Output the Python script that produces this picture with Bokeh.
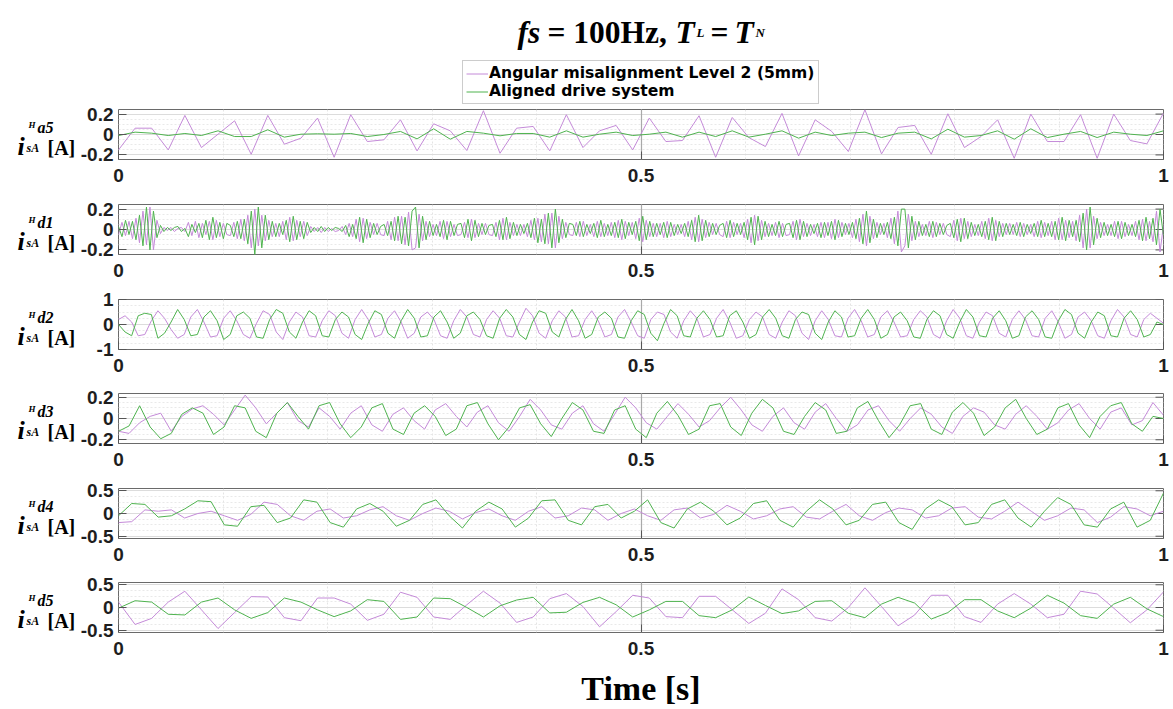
import numpy as np
from bokeh.plotting import figure
from bokeh.models import (Range1d, FixedTicker, CustomJSTickFormatter, LinearAxis,
                          Legend, LegendItem, Grid)
from bokeh.core.properties import value
from bokeh.layouts import column, row
from bokeh.embed import file_html
from bokeh.resources import INLINE

# ---------------- data ----------------
a5_misaligned = [-0.151, 0.062, 0.062, -0.151, 0.187, -0.128, 0.003, 0.134, -0.194, 0.187,
                 -0.095, -0.036, 0.161, -0.223, 0.194, -0.069, -0.052, 0.144, -0.161, 0.105,
                 0.036, -0.157, 0.233, -0.184, 0.062, 0.079, -0.161, 0.194, -0.128, 0.036,
                 0.089, -0.151, 0.161, -0.069, -0.059, 0.184, -0.223, 0.167, -0.030, -0.118,
                 0.207, -0.210, 0.144, 0.030, -0.167, 0.243, -0.190, 0.069, 0.089, -0.194,
                 0.203, -0.128, -0.020, 0.144, -0.233, 0.200, -0.069, -0.069, 0.194, -0.233,
                 0.200, -0.059, -0.092, 0.210]
a5_aligned = [-0.010, 0.023, 0.013, -0.010, 0.010, -0.010, 0.036, -0.020, -0.020, 0.046,
              -0.026, 0.003, 0.007, 0.003, 0.010, -0.020, 0.000, 0.030, -0.043, 0.056,
              -0.046, 0.030, 0.013, -0.013, 0.010, 0.010, -0.026, 0.036, -0.026, 0.003,
              0.023, -0.010, 0.003, 0.023, -0.026, 0.023, -0.020, 0.036, -0.026, 0.003,
              0.036, -0.036, 0.023, -0.010, 0.013, 0.023, -0.030, 0.013, 0.023, -0.043,
              0.052, -0.026, -0.010, 0.036, -0.046, 0.056, -0.030, 0.003, 0.030, -0.030,
              0.023, 0.003, -0.010, 0.036]

d1_misaligned = [
    -0.05, 0.07, -0.06, 0.08, -0.09, 0.11, -0.13, 0.18, -0.15, 0.22, -0.20, 0.09, -0.04, 0.02, -0.01, 0.02, -0.02, 0.01, 0.02, -0.02,
    0.07, -0.06, 0.08, -0.08, 0.06, -0.05, 0.08, -0.10, 0.09, -0.07, 0.06, -0.05, -0.06, 0.07, -0.09, 0.10, -0.11, 0.14, -0.18, 0.20,
    -0.16, 0.14, -0.11, 0.09, -0.07, 0.06, -0.07, 0.08, -0.10, 0.12, -0.11, 0.09, -0.07, 0.08, -0.06, 0.03, -0.02, 0.02, -0.03, 0.02,
    -0.02, 0.01, -0.02, -0.01, 0.03, -0.05, 0.06, -0.07, 0.10, -0.12, 0.11, -0.09, 0.07, -0.05, 0.06, -0.05, -0.06, 0.08, -0.10, 0.12,
    -0.11, 0.13, -0.15, 0.17, -0.20, -0.18, 0.15, -0.11, 0.08, -0.07, 0.05, -0.06, 0.08, -0.09, 0.08, -0.07, 0.05, -0.06, -0.05, 0.07,
    -0.08, 0.10, -0.08, 0.06, -0.05, 0.06, -0.05, -0.06, 0.07, -0.10, 0.11, -0.10, 0.07, -0.06, 0.05, -0.06, 0.05, -0.07, 0.09, -0.10,
    0.11, -0.12, 0.15, -0.14, 0.16, -0.18, 0.13, -0.09, 0.07, -0.05, -0.06, 0.07, -0.07, 0.08, -0.06, 0.05, -0.07, 0.08, -0.07, 0.06,
    -0.06, 0.07, -0.08, 0.09, -0.10, 0.08, -0.06, 0.07, -0.09, 0.11, -0.12, 0.09, -0.07, 0.06, -0.07, 0.06, -0.08, 0.08, -0.07, 0.05,
    -0.05, 0.05, -0.07, 0.08, -0.10, 0.12, -0.12, 0.10, -0.08, 0.07, -0.05, 0.06, -0.05, -0.07, 0.08, -0.08, 0.07, -0.05, 0.06, -0.08,
    0.10, -0.13, 0.14, -0.11, 0.09, -0.07, 0.06, -0.06, 0.07, -0.08, 0.06, -0.06, -0.05, 0.08, -0.10, 0.10, -0.07, 0.06, -0.06, 0.05,
    -0.07, 0.07, -0.08, 0.07, -0.09, 0.10, -0.08, 0.07, -0.05, 0.06, -0.08, 0.10, -0.12, 0.15, -0.16, 0.13, -0.09, 0.07, -0.05, 0.06,
    -0.08, 0.11, -0.14, 0.18, -0.22, -0.16, 0.15, -0.11, 0.08, -0.07, 0.05, -0.06, 0.08, -0.08, 0.07, -0.05, 0.06, -0.05, -0.07, 0.09,
    -0.11, 0.11, -0.09, 0.08, -0.07, 0.05, -0.06, 0.08, -0.09, 0.11, -0.11, 0.09, -0.07, 0.06, -0.05, 0.06, -0.05, 0.07, -0.07, 0.06,
    -0.05, 0.05, -0.07, 0.08, -0.08, 0.07, -0.06, 0.08, -0.10, 0.11, -0.10, 0.09, -0.08, 0.08, -0.11, 0.14, -0.18, 0.20, -0.18, 0.13,
    -0.09, 0.07, -0.06, 0.05, -0.06, 0.08, -0.09, 0.08, -0.07, 0.05, -0.06, 0.08, -0.10, 0.10, -0.11, 0.08, -0.12, 0.18, -0.22, 0.04]
d1_aligned = [
    0.03, -0.07, 0.09, -0.05, 0.08, -0.10, 0.14, -0.16, 0.22, -0.20, 0.18, -0.08, 0.04, -0.02, 0.02, -0.01, 0.02, 0.03, -0.02, 0.01,
    -0.07, 0.05, -0.03, 0.06, -0.08, 0.09, -0.10, 0.12, -0.08, 0.07, -0.09, 0.06, 0.04, -0.07, 0.08, -0.09, 0.10, -0.14, 0.18, -0.25,
    0.22, -0.18, 0.14, -0.10, 0.08, -0.07, 0.06, -0.05, 0.09, -0.12, 0.13, -0.10, 0.08, -0.09, 0.07, -0.03, 0.02, -0.02, 0.03, -0.02,
    0.02, -0.01, 0.02, 0.01, -0.02, 0.04, -0.07, 0.05, -0.09, 0.12, -0.13, 0.10, -0.08, 0.06, -0.05, 0.03, 0.05, -0.06, 0.08, -0.11,
    0.13, -0.14, 0.12, -0.16, 0.18, 0.22, -0.18, 0.13, -0.10, 0.08, -0.06, 0.05, -0.07, 0.09, -0.10, 0.08, -0.06, 0.05, 0.06, -0.08,
    0.10, -0.11, 0.09, -0.07, 0.06, -0.05, 0.04, 0.05, -0.07, 0.09, -0.10, 0.12, -0.09, 0.07, -0.06, 0.05, -0.04, 0.06, -0.08, 0.11,
    -0.13, 0.10, -0.14, 0.16, -0.18, 0.20, -0.13, 0.10, -0.08, 0.06, 0.05, -0.06, 0.08, -0.07, 0.05, -0.04, 0.06, -0.08, 0.09, -0.07,
    0.05, -0.06, 0.07, -0.08, 0.10, -0.09, 0.07, -0.05, 0.08, -0.11, 0.13, -0.10, 0.08, -0.07, 0.06, -0.05, 0.07, -0.08, 0.07, -0.06,
    0.05, -0.04, 0.06, -0.07, 0.09, -0.12, 0.14, -0.11, 0.09, -0.07, 0.06, -0.05, 0.04, 0.06, -0.08, 0.09, -0.07, 0.06, -0.05, 0.07,
    -0.10, 0.12, -0.15, 0.13, -0.10, 0.08, -0.07, 0.05, -0.06, 0.08, -0.07, 0.05, 0.06, -0.08, 0.09, -0.10, 0.08, -0.07, 0.05, -0.04,
    0.06, -0.08, 0.07, -0.06, 0.08, -0.10, 0.09, -0.07, 0.06, -0.05, 0.07, -0.09, 0.11, -0.14, 0.18, -0.13, 0.10, -0.08, 0.06, -0.05,
    0.07, -0.09, 0.12, -0.16, 0.20, 0.20, -0.18, 0.13, -0.10, 0.08, -0.06, 0.05, -0.07, 0.08, -0.07, 0.06, -0.05, 0.04, 0.06, -0.08,
    0.10, -0.12, 0.11, -0.09, 0.07, -0.06, 0.05, -0.07, 0.08, -0.10, 0.12, -0.11, 0.08, -0.07, 0.06, -0.05, 0.05, -0.06, 0.07, -0.07,
    0.05, -0.04, 0.06, -0.07, 0.09, -0.07, 0.06, -0.07, 0.08, -0.10, 0.12, -0.11, 0.09, -0.07, 0.09, -0.12, 0.16, -0.20, 0.22, -0.15,
    0.11, -0.08, 0.07, -0.06, 0.05, -0.07, 0.08, -0.09, 0.07, -0.06, 0.05, -0.07, 0.09, -0.11, 0.12, -0.09, 0.11, -0.15, 0.20, -0.06]

d2_misaligned = [
    0.20, 0.35, 0.10, -0.45, -0.40, 0.15, 0.55, 0.25, -0.20, -0.55,
    -0.40, 0.30, 0.60, 0.10, -0.50, -0.45, 0.25, 0.55, 0.15, -0.40,
    -0.55, 0.05, 0.55, 0.40, -0.30, -0.60, 0.10, 0.50, 0.30, -0.45,
    -0.50, 0.15, 0.55, 0.35, -0.35, -0.55, 0.20, 0.60, 0.20, -0.50,
    -0.40, 0.25, 0.55, 0.10, -0.55, -0.35, 0.30, 0.50, 0.20, -0.45,
    -0.55, 0.15, 0.60, 0.30, -0.40, -0.50, 0.20, 0.55, 0.25, -0.45,
    -0.50, 0.10, 0.65, 0.35, -0.35, -0.55, 0.15, 0.55, 0.30, -0.50,
    -0.45, 0.20, 0.55, 0.15, -0.50, -0.40, 0.30, 0.60, 0.10, -0.45,
    -0.55, 0.20, 0.50, 0.40, -0.30, -0.55, 0.15, 0.55, 0.25, -0.50,
    -0.40, 0.25, 0.60, 0.10, -0.55, -0.45, 0.20, 0.50, 0.30, -0.40,
    -0.55, 0.10, 0.55, 0.35, -0.35, -0.60, 0.15, 0.55, 0.20, -0.45,
    -0.50, 0.25, 0.60, 0.15, -0.50, -0.40, 0.30, 0.55, 0.10, -0.50,
    -0.45, 0.20, 0.55, 0.30, -0.40, -0.55, 0.15, 0.60, 0.25, -0.45,
    -0.55, 0.10, 0.50, 0.35, -0.35, -0.50, 0.20, 0.55, 0.20, -0.45,
    -0.50, 0.25, 0.55, 0.10, -0.55, -0.40, 0.30, 0.50, 0.15, -0.45,
    -0.55, 0.15, 0.60, 0.30, -0.40, -0.50, 0.20, 0.45, 0.25, 0.05]
d2_aligned = [
    0.00, -0.30, -0.45, 0.35, 0.45, 0.40, -0.55, -0.35, 0.10, 0.60,
    0.20, -0.45, -0.40, 0.30, 0.55, 0.15, -0.60, -0.40, 0.35, 0.50,
    0.25, -0.50, -0.55, 0.20, 0.60, 0.45, -0.30, -0.55, 0.10, 0.55,
    0.35, -0.45, -0.50, 0.20, 0.50, 0.30, -0.40, -0.60, 0.05, 0.55,
    0.40, -0.35, -0.55, 0.15, 0.60, 0.25, -0.50, -0.45, 0.30, 0.55,
    0.10, -0.55, -0.35, 0.35, 0.50, 0.20, -0.45, -0.55, 0.25, 0.60,
    0.30, -0.40, -0.60, 0.10, 0.55, 0.45, -0.30, -0.50, 0.20, 0.60,
    0.15, -0.55, -0.40, 0.30, 0.50, 0.25, -0.50, -0.55, 0.15, 0.55,
    0.40, -0.35, -0.65, 0.05, 0.60, 0.35, -0.45, -0.50, 0.25, 0.55,
    0.20, -0.50, -0.45, 0.35, 0.55, 0.10, -0.55, -0.40, 0.30, 0.60,
    0.25, -0.45, -0.55, 0.20, 0.50, 0.40, -0.35, -0.60, 0.10, 0.55,
    0.30, -0.50, -0.45, 0.25, 0.60, 0.20, -0.55, -0.40, 0.30, 0.50,
    0.15, -0.50, -0.55, 0.20, 0.55, 0.35, -0.40, -0.55, 0.10, 0.60,
    0.30, -0.45, -0.50, 0.25, 0.55, 0.15, -0.55, -0.45, 0.30, 0.55,
    0.20, -0.50, -0.55, 0.15, 0.60, 0.40, -0.35, -0.55, 0.10, 0.50,
    0.35, -0.45, -0.50, 0.25, 0.55, 0.20, -0.50, -0.40, 0.10, 0.00]

d3_misaligned = [
    -0.12, -0.14, -0.04, 0.02, 0.05, -0.12, 0.02, 0.09, 0.12, 0.04,
    -0.06, 0.08, 0.22, 0.10, -0.05, 0.05, 0.15, -0.02, -0.08, 0.10,
    0.02, -0.10, 0.05, 0.12, -0.06, -0.12, 0.04, 0.10, -0.02, -0.10,
    0.08, 0.14, 0.02, -0.08, 0.06, 0.12, -0.04, -0.12, 0.02, 0.18,
    0.08, -0.06, -0.10, 0.05, 0.12, -0.05, -0.12, 0.04, 0.20, 0.10,
    -0.04, -0.10, 0.02, 0.14, 0.04, -0.08, -0.02, 0.10, 0.20, 0.08,
    -0.06, -0.12, 0.02, 0.10, -0.04, -0.10, 0.06, 0.14, 0.00, -0.12,
    -0.06, 0.08, 0.12, -0.02, -0.12, 0.00, 0.10, 0.04, -0.08, -0.14,
    0.02, 0.10, 0.06, -0.06, -0.10, 0.04, 0.12, 0.02, -0.10, -0.04,
    0.08, 0.14, 0.00, -0.10, 0.06, 0.10, -0.06, -0.02, 0.15, 0.03]
d3_aligned = [
    -0.12, -0.07, 0.12, -0.08, -0.19, -0.14, 0.04, 0.10, 0.05, -0.15,
    -0.08, 0.12, 0.10, -0.12, -0.18, 0.05, 0.15, 0.02, -0.10, 0.12,
    0.15, -0.05, -0.18, -0.08, 0.10, 0.14, -0.10, -0.15, 0.05, 0.12,
    0.02, -0.16, -0.10, 0.12, 0.15, -0.05, -0.20, -0.08, 0.10, 0.13,
    -0.05, -0.17, 0.00, 0.15, 0.08, -0.12, -0.14, 0.08, 0.12, -0.10,
    -0.18, 0.05, 0.16, 0.03, -0.15, -0.10, 0.12, 0.14, -0.08, -0.16,
    0.05, 0.18, 0.10, -0.12, -0.15, 0.02, 0.15, 0.08, -0.14, -0.12,
    0.10, 0.16, -0.02, -0.18, -0.06, 0.12, 0.14, -0.10, -0.15, 0.06,
    0.15, 0.05, -0.16, -0.08, 0.10, 0.18, 0.00, -0.15, -0.10, 0.10,
    0.14, -0.06, -0.18, 0.02, 0.12, 0.15, -0.05, -0.12, 0.02, 0.00]

d4_misaligned = [
    -0.20, -0.18, 0.08, 0.05, 0.08, -0.10, 0.00, 0.05, -0.05, -0.15,
    -0.02, 0.25, 0.20, -0.05, -0.15, 0.05, 0.10, -0.10, -0.05, 0.08,
    0.15, -0.05, -0.15, 0.00, 0.12, 0.05, -0.12, 0.02, 0.10, -0.05,
    -0.15, 0.05, 0.15, -0.10, -0.05, 0.12, 0.08, -0.15, 0.00, 0.10,
    -0.05, -0.15, 0.08, 0.12, -0.10, -0.02, 0.18, 0.05, -0.12, -0.05,
    0.10, 0.15, -0.08, -0.12, 0.05, 0.20, -0.05, -0.15, 0.02, 0.12,
    0.08, -0.10, -0.05, 0.12, 0.15, -0.08, -0.12, 0.05, 0.25, 0.05,
    -0.15, -0.05, 0.12, 0.08, -0.20, -0.08, 0.15, 0.10, -0.05, 0.05]
d4_aligned = [
    -0.05, 0.22, 0.20, -0.08, -0.05, 0.10, 0.28, 0.26, -0.25, -0.28,
    0.15, 0.18, -0.20, -0.10, 0.30, 0.25, -0.20, -0.30, 0.10, 0.22,
    0.05, -0.28, -0.15, 0.20, 0.30, -0.05, -0.32, 0.05, 0.25, 0.10,
    -0.30, -0.10, 0.28, 0.30, -0.15, -0.25, 0.15, 0.20, -0.10, 0.05,
    0.30, -0.20, -0.32, 0.10, 0.25, 0.05, -0.25, -0.10, 0.22, 0.28,
    -0.15, -0.30, 0.05, 0.30, 0.10, -0.25, -0.15, 0.20, 0.25, -0.20,
    -0.35, 0.10, 0.30, 0.15, -0.25, -0.20, 0.20, 0.30, -0.10, -0.30,
    0.05, 0.35, 0.20, -0.25, -0.30, 0.10, 0.25, -0.30, -0.15, 0.45]

d5_misaligned = [0.119, -0.373, -0.239, 0.119, 0.358, -0.050, -0.463, -0.110, 0.239, 0.231,
                 -0.224, -0.291, 0.209, 0.209, 0.075, -0.283, -0.149, 0.336, 0.224, -0.209,
                 -0.261, 0.060, 0.358, 0.097, -0.328, -0.209, 0.194, 0.306, 0.022, -0.425,
                 -0.090, 0.269, 0.209, -0.201, -0.224, 0.246, 0.246, -0.050, -0.351, -0.127,
                 0.410, 0.172, -0.224, -0.298, 0.000, 0.433, 0.022, -0.403, -0.164, 0.269,
                 0.269, -0.201, -0.328, 0.075, 0.306, 0.075, -0.224, -0.149, 0.358, 0.298,
                 -0.015, -0.336, -0.052, 0.343]
d5_aligned = [-0.015, 0.149, 0.119, -0.149, -0.164, 0.119, 0.209, -0.052, -0.239, -0.112,
              0.209, 0.119, -0.052, -0.201, -0.075, 0.172, 0.134, -0.261, -0.209, 0.209,
              0.194, 0.000, -0.209, 0.037, 0.164, 0.224, -0.119, -0.104, 0.112, 0.224,
              0.060, -0.209, -0.052, 0.134, 0.134, -0.179, -0.224, -0.052, 0.231, 0.045,
              -0.134, -0.075, 0.134, 0.149, -0.127, -0.224, 0.075, 0.224, 0.097, -0.254,
              -0.112, 0.172, 0.172, -0.075, -0.224, -0.015, 0.269, 0.097, -0.179, -0.239,
              0.075, 0.224, -0.030, -0.201]

level_names = ["a5", "d1", "d2", "d3", "d4", "d5"]
series_misaligned = [a5_misaligned, d1_misaligned, d2_misaligned, d3_misaligned, d4_misaligned, d5_misaligned]
series_aligned = [a5_aligned, d1_aligned, d2_aligned, d3_aligned, d4_aligned, d5_aligned]
y_limits = [(-0.245, 0.245), (-0.245, 0.245), (-1.0, 1.0), (-0.235, 0.235), (-0.55, 0.55), (-0.55, 0.55)]
y_ticks = [[-0.2, 0, 0.2], [-0.2, 0, 0.2], [-1, 0, 1], [-0.2, 0, 0.2], [-0.5, 0, 0.5], [-0.5, 0, 0.5]]
x_ticks = [0, 0.5, 1]
legend_labels = ["Angular misalignment Level 2 (5mm)", "Aligned drive system"]

# ---------------- style / layout ----------------
PURPLE = "#c48ad8"
GREEN = "#4fb34f"
SANS = "Liberation Sans"
SERIF = "Liberation Serif"
W, H = 1173, 709
HEADER_H = 104
FIRST_TOP = 109                  # frame top of first panel (image px)
LABEL_W = 76
FRAME_W, FRAME_H = 1045, 50
LEFT, RIGHT = 118 - LABEL_W, 10
gaps = [45, 45, 44, 45, 44]      # pixels between successive frames
top_pads = [FIRST_TOP - HEADER_H, 11, 11, 11, 11, 11]
LAST_BOTTOM = 77
TICK_LEN = 8

fmt_code = "return tick.toString()"


def blank_fig(w, h, xr, yr):
    f = figure(width=w, height=h, x_range=xr, y_range=yr, x_axis_type=None, y_axis_type=None,
               title=None, min_border=0, min_border_left=0, min_border_right=0,
               min_border_top=0, min_border_bottom=0, output_backend="svg",
               toolbar_location=None)
    f.outline_line_color = None
    f.background_fill_color = "white"
    f.border_fill_color = "white"
    f.grid.visible = False
    return f


def style_axis(ax, ticks):
    ax.ticker = FixedTicker(ticks=ticks)
    ax.formatter = CustomJSTickFormatter(code=fmt_code)
    ax.axis_line_color = None
    ax.major_tick_in = TICK_LEN
    ax.major_tick_out = 0
    ax.major_tick_line_color = "#555555"
    ax.minor_tick_in = 0
    ax.minor_tick_out = 0
    ax.major_label_text_font = SANS
    ax.major_label_text_font_style = "bold"
    ax.major_label_text_color = "#1e1e1e"
    ax.major_label_text_font_size = "19px"


# ---------------- header: title + legend ----------------
header = blank_fig(W, HEADER_H, Range1d(0, W), Range1d(HEADER_H, 0))
title_big = [("fs", 517, "bold italic"), ("= 100Hz,", 547, "bold"), ("T", 675, "bold italic"),
             ("=", 710, "bold"), ("T", 734, "bold italic")]
for txt, xi, sty in title_big:
    header.text(x=[xi], y=[32], text=[txt], text_font=value(SERIF), text_font_style=sty,
                text_font_size="31.5px", text_color="black", text_baseline="alphabetic",
                text_align="left")
for txt, xi in [("L", 696), ("N", 755)]:
    header.text(x=[xi], y=[32], text=[txt], text_font=value(SERIF), text_font_style="bold italic",
                text_font_size="13px", text_color="black", text_baseline="alphabetic",
                text_align="left")
dm = header.line(x=[np.nan], y=[np.nan], line_color=PURPLE, line_width=1)
da = header.line(x=[np.nan], y=[np.nan], line_color=GREEN, line_width=1)
legend = Legend(items=[LegendItem(label=legend_labels[0], renderers=[dm]),
                       LegendItem(label=legend_labels[1], renderers=[da])],
                location=(462, 0))
legend.label_text_font = "DejaVu Sans"
legend.label_text_font_style = "bold"
legend.label_text_font_size = "15.6px"
legend.label_text_color = "black"
legend.glyph_width = 22
legend.glyph_height = 15
legend.label_height = 15
legend.label_standoff = 1
legend.padding = 3
legend.spacing = 0
legend.margin = 0
legend.border_line_color = "#9a9a9a"
legend.border_line_width = 1
legend.background_fill_color = "white"
legend.background_fill_alpha = 1
header.add_layout(legend, "center")

# ---------------- panels ----------------
panels = []
frame_tops = []
ytop = FIRST_TOP
for i in range(6):
    frame_tops.append(ytop)
    if i < 5:
        ytop += FRAME_H + gaps[i]

for i in range(6):
    ylo, yhi = y_limits[i]
    bottom = (gaps[i] - top_pads[i + 1]) if i < 5 else LAST_BOTTOM
    p = figure(frame_width=FRAME_W, frame_height=FRAME_H, title=None,
               min_border_left=LEFT, min_border_right=RIGHT,
               min_border_top=top_pads[i], min_border_bottom=bottom,
               x_range=Range1d(0, 1), y_range=Range1d(ylo, yhi),
               x_axis_type=None, y_axis_type=None,
               output_backend="svg", toolbar_location=None)
    p.outline_line_color = "#6a6a6a"
    p.outline_line_width = 1
    p.background_fill_color = "white"
    p.border_fill_color = "white"

    yt = y_ticks[i]
    ystep = (yt[2] - yt[1]) / 4.0
    minor_y = [k * ystep for k in range(-8, 9) if abs(k * ystep) < yhi]
    p.add_layout(Grid(dimension=0, ticker=FixedTicker(ticks=[k / 10 for k in range(1, 10)]),
                      grid_line_color="#e4e4e4", grid_line_dash="2 2", grid_line_width=1))
    p.add_layout(Grid(dimension=1, ticker=FixedTicker(ticks=minor_y),
                      grid_line_color="#e9e9e9", grid_line_dash="2 2", grid_line_width=1))
    p.add_layout(Grid(dimension=1, ticker=FixedTicker(ticks=yt),
                      grid_line_color="#dcdcdc", grid_line_width=1))
    p.add_layout(Grid(dimension=0, ticker=FixedTicker(ticks=[0.5]),
                      grid_line_color="#a9a9a9", grid_line_width=1.2))

    yax = LinearAxis()
    style_axis(yax, yt)
    yax.major_label_standoff = 5
    p.add_layout(yax, "left")
    xax = LinearAxis()
    style_axis(xax, x_ticks)
    xax.major_label_standoff = 9
    if i == 5:
        xax.axis_label = "Time [s]"
        xax.axis_label_text_font = SERIF
        xax.axis_label_text_font_style = "bold"
        xax.axis_label_text_font_size = "34px"
        xax.axis_label_text_color = "black"
        xax.axis_label_standoff = 12
    p.add_layout(xax, "below")

    # mirrored tick marks on the right side of the box
    inner = TICK_LEN / FRAME_W
    p.segment(x0=[1.0] * len(yt), y0=yt, x1=[1.0 - inner] * len(yt), y1=yt,
              line_color="#555555", line_width=1)

    n_m = len(series_misaligned[i])
    n_a = len(series_aligned[i])
    p.line(np.linspace(0, 1, n_m), series_misaligned[i], line_color=PURPLE, line_width=1)
    p.line(np.linspace(0, 1, n_a), series_aligned[i], line_color=GREEN, line_width=1)
    panels.append(p)

# ---------------- left strip: y-axis labels  i^H_{sA}^{level} [A] ----------------
left = blank_fig(LABEL_W, H - HEADER_H, Range1d(0, LABEL_W), Range1d(H, HEADER_H))
for i in range(6):
    c = frame_tops[i] + FRAME_H / 2
    pieces = [
        ("i", 17, c + 12, "bold italic", "26px"),
        ("H", 28, c - 10, "bold italic", "9px"),
        (level_names[i], 37, c - 7, "bold italic", "16px"),
        ("sA", 26, c + 13, "bold italic", "12px"),
        ("[A]", 47, c + 13, "bold", "20px"),
    ]
    for txt, xs, ys, sty, size in pieces:
        left.text(x=[xs], y=[ys], text=[txt], text_font=value(SERIF), text_font_style=sty,
                  text_font_size=size, text_color="black", text_baseline="alphabetic",
                  text_align="left")

layout = column(header, row(left, column(*panels, spacing=0), spacing=0), spacing=0)
open("out.html", "w").write(file_html(layout, INLINE))
